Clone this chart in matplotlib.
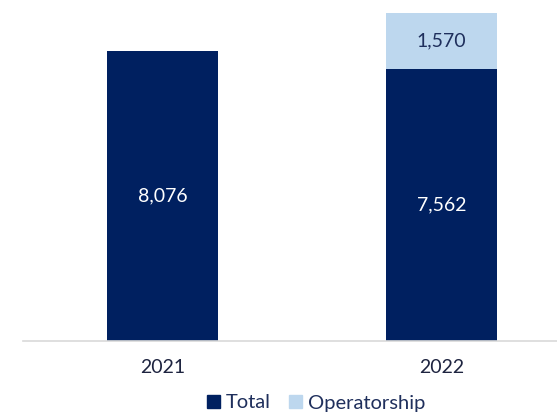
import matplotlib
matplotlib.use("Agg")
import matplotlib.pyplot as plt
from matplotlib.patches import Patch
import numpy as np

years = ["2021", "2022"]
total = [8076, 7562]
operatorship = [0, 1570]

navy = "#002060"
light = "#BDD7EE"
text_col = "#1F2F5C"

plt.rcParams["font.family"] = ["Lato", "DejaVu Sans"]

fig = plt.figure(figsize=(5.57, 4.13), dpi=100)
ax = fig.add_axes([23 / 557, (413 - 341) / 413, 1 - 23 / 557, 341 / 413])

x = np.arange(len(years))
w = 0.4
ax.bar(x, total, width=w, color=navy, zorder=2)
ax.bar(x, operatorship, width=w, bottom=total, color=light, zorder=2)

for xi, t, o in zip(x, total, operatorship):
    ax.text(xi, t / 2, f"{t:,}", ha="center", va="center", color="white", fontsize=14)
    if o > 0:
        ax.text(xi, t + o / 2, f"{o:,}", ha="center", va="center", color=text_col, fontsize=14)

ax.set_xlim(-0.5, 1.414)
ax.set_ylim(0, 9494)
ax.set_xticks(x)
ax.set_xticklabels(years, fontsize=14, color="#1E2440")
ax.tick_params(axis="x", length=0, pad=13)
ax.set_yticks([])
for s in ["top", "right", "left"]:
    ax.spines[s].set_visible(False)
ax.spines["bottom"].set_color("#D9D9D9")
ax.spines["bottom"].set_linewidth(1.2)

handles = [Patch(color=navy, label="Total"), Patch(color=light, label="Operatorship")]
leg = fig.legend(handles=handles, loc="center", bbox_to_anchor=(316 / 557, 1 - 403 / 413),
                 ncol=2, frameon=False, fontsize=14.5, handlelength=0.65, handleheight=0.65,
                 handletextpad=0.3, columnspacing=0.9, borderpad=0)
for t in leg.get_texts():
    t.set_color(text_col)

fig.savefig("out.png", dpi=100)
